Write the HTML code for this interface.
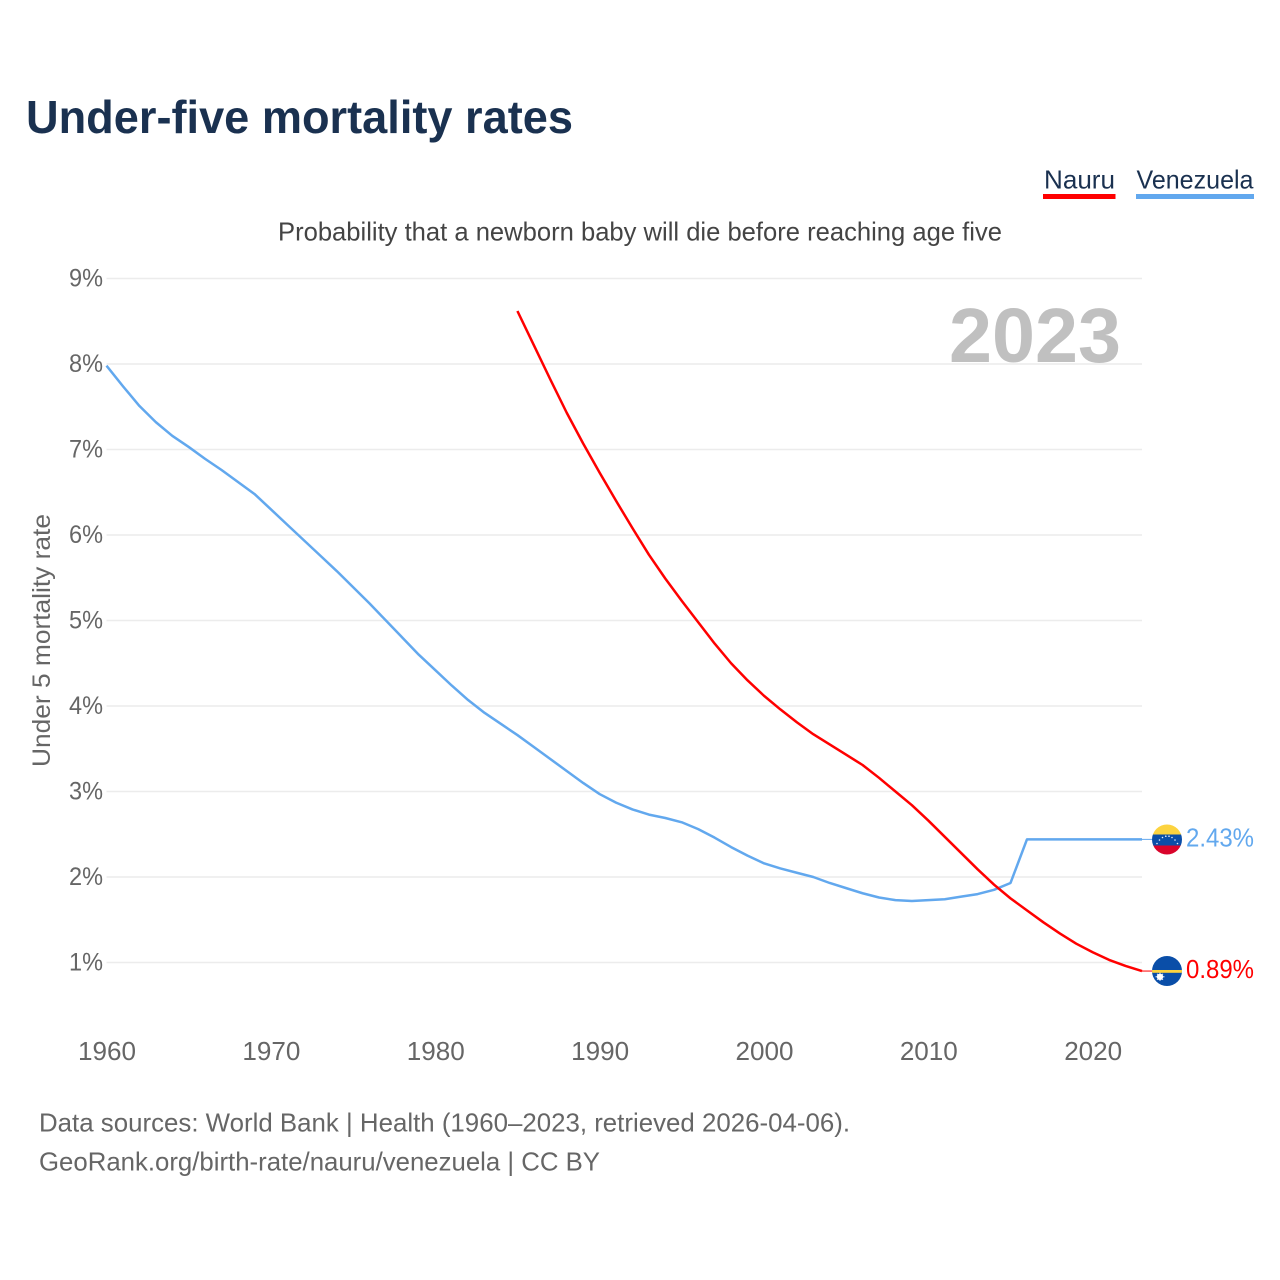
<!DOCTYPE html>
<html lang="en">
<head>
<meta charset="utf-8">
<title>Under-five mortality rates</title>
<style>
  html, body { margin: 0; padding: 0; background: #fff; }
  svg { display: block; }
  text { font-family: "Liberation Sans", "DejaVu Sans", sans-serif; }
</style>
</head>
<body>
<svg id="chart" xmlns="http://www.w3.org/2000/svg" width="1280" height="1280" viewBox="0 0 1280 1280">
  <rect x="0" y="0" width="1280" height="1280" fill="#ffffff"/>
  <text x="26" y="133" font-size="46" font-weight="700" fill="#1a3150" textLength="547" lengthAdjust="spacingAndGlyphs">Under-five mortality rates</text>

  <g>
    <g>
      <text x="1044" y="188.5" font-size="26" fill="#1a3150" textLength="71" lengthAdjust="spacingAndGlyphs">Nauru</text>
      <rect x="1043" y="194" width="72.5" height="5" fill="#ff0000"/>
    </g>
    <g>
      <text x="1136.5" y="188.5" font-size="26" fill="#1a3150" textLength="117" lengthAdjust="spacingAndGlyphs">Venezuela</text>
      <rect x="1136" y="194" width="118" height="5" fill="#62a8ee"/>
    </g>
  </g>

  <text x="278" y="240.5" font-size="26" fill="#444444" textLength="724" lengthAdjust="spacingAndGlyphs">Probability that a newborn baby will die before reaching age five</text>
  <text transform="translate(50,767) rotate(-90)" x="0" y="0" font-size="25" fill="#666666" textLength="253" lengthAdjust="spacingAndGlyphs">Under 5 mortality rate</text>

  <g id="grid"></g>
  <g id="yticks"></g>
  <g id="xticks"></g>

  <text x="949" y="362" font-size="77" font-weight="700" fill="#c0c0c0" textLength="172" lengthAdjust="spacingAndGlyphs">2023</text>

  <g id="series"></g>

  <defs>
    <clipPath id="clip-ve"><circle cx="1167" cy="839.5" r="15"/></clipPath>
    <clipPath id="clip-nr"><circle cx="1167" cy="971" r="15"/></clipPath>
  </defs>

  <g clip-path="url(#clip-ve)">
    <rect x="1152" y="824" width="30" height="10.5" fill="#fcd33f"/>
    <rect x="1152" y="834.5" width="30" height="11" fill="#0a4ea8"/>
    <rect x="1152" y="845.5" width="30" height="10" fill="#d9042b"/>
    <g fill="#e8eef8">
      <circle cx="1157" cy="843.5" r="0.8"/><circle cx="1159.5" cy="840" r="0.8"/>
      <circle cx="1162.5" cy="837.5" r="0.8"/><circle cx="1165.8" cy="836.2" r="0.8"/>
      <circle cx="1169" cy="836.2" r="0.8"/><circle cx="1172" cy="837.5" r="0.8"/>
      <circle cx="1175" cy="840" r="0.8"/><circle cx="1177.5" cy="843.5" r="0.8"/>
    </g>
  </g>
  <g clip-path="url(#clip-nr)">
    <rect x="1152" y="956" width="30" height="30" fill="#0a4ea8"/>
    <rect x="1152" y="970" width="30" height="2.8" fill="#fcd33f"/>
    <circle cx="1160" cy="976.8" r="3.2" fill="#ffffff"/>
    <g stroke="#ffffff" stroke-width="0.8">
      <line x1="1155.5" y1="976.8" x2="1164.5" y2="976.8"/>
      <line x1="1160" y1="972.6" x2="1160" y2="981"/>
      <line x1="1157" y1="973.8" x2="1163" y2="979.8"/>
      <line x1="1163" y1="973.8" x2="1157" y2="979.8"/>
    </g>
  </g>

  <text x="39" y="1131.5" font-size="26" fill="#666666" textLength="811" lengthAdjust="spacingAndGlyphs">Data sources: World Bank | Health (1960–2023, retrieved 2026-04-06).</text>
  <text x="39" y="1170.5" font-size="26" fill="#666666" textLength="561" lengthAdjust="spacingAndGlyphs">GeoRank.org/birth-rate/nauru/venezuela | CC BY</text>
</svg>

<script>
const startYear = 1960;
const endYear = 2023;
const yTickValues = [1, 2, 3, 4, 5, 6, 7, 8, 9];
const xTickYears = [1960, 1970, 1980, 1990, 2000, 2010, 2020];

const venezuelaStartYear = 1960;
const venezuelaValues = [
  7.98, 7.74, 7.51, 7.32, 7.16, 7.03, 6.89, 6.76, 6.62, 6.48,
  6.30, 6.12, 5.94, 5.76, 5.58, 5.39, 5.20, 5.00, 4.80, 4.60,
  4.42, 4.24, 4.07, 3.92, 3.79, 3.66, 3.52, 3.38, 3.24, 3.10,
  2.97, 2.87, 2.79, 2.73, 2.69, 2.64, 2.56, 2.46, 2.35, 2.25,
  2.16, 2.10, 2.05, 2.00, 1.93, 1.87, 1.81, 1.76, 1.73, 1.72,
  1.73, 1.74, 1.77, 1.80, 1.85, 1.93, 2.44, 2.44, 2.44, 2.44,
  2.44, 2.44, 2.44, 2.44
];

const nauruStartYear = 1985;
const nauruValues = [
  8.62, 8.22, 7.82, 7.43, 7.07, 6.73, 6.40, 6.08, 5.77, 5.49,
  5.23, 4.98, 4.73, 4.50, 4.30, 4.12, 3.96, 3.81, 3.67, 3.55,
  3.43, 3.31, 3.16, 3.00, 2.84, 2.66, 2.47, 2.28, 2.09, 1.91,
  1.75, 1.61, 1.47, 1.34, 1.22, 1.12, 1.03, 0.96, 0.90
];

const venezuelaEndLabel = '2.43%';
const nauruEndLabel = '0.89%';

const NS = 'http://www.w3.org/2000/svg';
const xLeft = 106.5, xRight = 1142, yBase = 1048, yUnit = 85.5;

function xScale(year) {
  return xLeft + (year - startYear) * (xRight - xLeft) / (endYear - startYear);
}
function yScale(value) {
  return yBase - value * yUnit;
}
function make(tag, parent) {
  const el = document.createElementNS(NS, tag);
  parent.appendChild(el);
  return el;
}

const gridGroup = document.getElementById('grid');
const yTickGroup = document.getElementById('yticks');
const xTickGroup = document.getElementById('xticks');
const seriesGroup = document.getElementById('series');

yTickValues.forEach(function (v) {
  const line = make('line', gridGroup);
  
  
  line.setAttribute('x1', xLeft);
  line.setAttribute('x2', xRight);
  line.setAttribute('y1', yScale(v));
  line.setAttribute('y2', yScale(v));
  line.setAttribute('stroke', '#ececec');
  line.setAttribute('stroke-width', '1.5');

  const label = make('text', yTickGroup);
  
  
  label.setAttribute('x', 69);
  label.setAttribute('y', yScale(v) + 8);
  label.setAttribute('font-size', '25');
  label.setAttribute('fill', '#666666');
  label.setAttribute('textLength', '34');
  label.setAttribute('lengthAdjust', 'spacingAndGlyphs');
  label.textContent = v + '%';
});

xTickYears.forEach(function (year) {
  const label = make('text', xTickGroup);
  
  
  label.setAttribute('x', xScale(year) - 28.5);
  label.setAttribute('y', 1060);
  label.setAttribute('font-size', '26');
  label.setAttribute('fill', '#666666');
  label.setAttribute('textLength', '58');
  label.setAttribute('lengthAdjust', 'spacingAndGlyphs');
  label.textContent = year;
});

function drawSeries(name, values, firstYear, color, width, endLabel) {
  const points = values.map(function (v, i) {
    return xScale(firstYear + i).toFixed(2) + ',' + yScale(v).toFixed(2);
  }).join(' ');
  const line = make('polyline', seriesGroup);
  
  
  line.setAttribute('points', points);
  line.setAttribute('fill', 'none');
  line.setAttribute('stroke', color);
  line.setAttribute('stroke-width', width);
  line.setAttribute('stroke-linejoin', 'round');

  const lastY = yScale(values[values.length - 1]);
  const connector = make('line', seriesGroup);
  
  
  connector.setAttribute('x1', xRight);
  connector.setAttribute('x2', 1152);
  connector.setAttribute('y1', lastY);
  connector.setAttribute('y2', lastY);
  connector.setAttribute('stroke', color);
  connector.setAttribute('stroke-width', '1');

  const label = make('text', seriesGroup);
  
  
  label.setAttribute('x', 1186);
  label.setAttribute('y', lastY + 7);
  label.setAttribute('font-size', '26');
  label.setAttribute('fill', color);
  label.setAttribute('textLength', '68');
  label.setAttribute('lengthAdjust', 'spacingAndGlyphs');
  label.textContent = endLabel;
}

drawSeries('venezuela', venezuelaValues, venezuelaStartYear, '#62a8ee', '2.5', venezuelaEndLabel);
drawSeries('nauru', nauruValues, nauruStartYear, '#ff0000', '2.5', nauruEndLabel);
</script>
</body>
</html>
